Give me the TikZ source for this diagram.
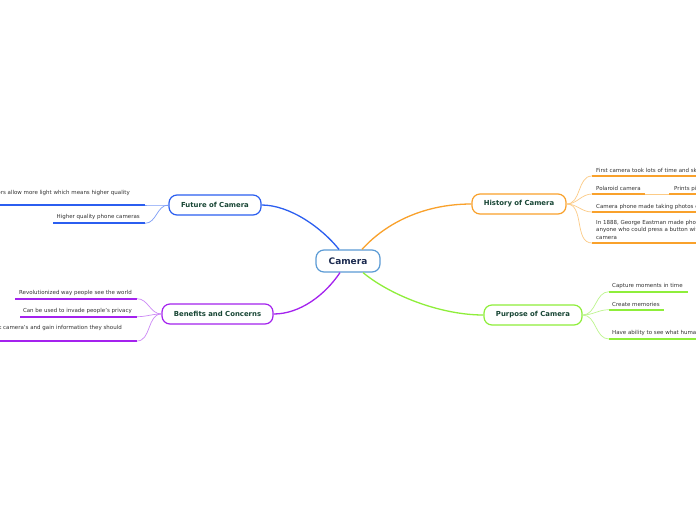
\documentclass[tikz,border=0pt]{standalone}
\usepackage{fontspec}
\setmainfont{DejaVu Sans}
\usetikzlibrary{calc}
\definecolor{camblue}{HTML}{5B9BD5}
\definecolor{camtext}{HTML}{1C2B50}
\definecolor{nodetext}{HTML}{174534}
\definecolor{leafgray}{HTML}{333333}
\definecolor{futblue}{HTML}{2B5EF0}
\definecolor{futlight}{HTML}{7C9CF6}
\definecolor{purp}{HTML}{A422EE}
\definecolor{purplight}{HTML}{CC88F6}
\definecolor{orng}{HTML}{F9A12B}
\definecolor{ornglight}{HTML}{FCCB86}
\definecolor{grn}{HTML}{8EEE3A}
\definecolor{grnlight}{HTML}{BDF58E}
\begin{document}
\begin{tikzpicture}[x=1pt,y=-1pt,
  mainnode/.style={draw, rounded corners=8pt, line width=1.2pt, fill=white,
    minimum height=20pt, inner sep=0pt,
    font=\fontsize{6.9}{8}\selectfont\bfseries, text=nodetext},
  bar/.style={inner sep=0pt, outer sep=0pt, minimum height=1.8pt, draw=none},
  leaftext/.style={font=\fontsize{5.5}{7.3}\selectfont, text=leafgray, inner sep=0pt},
  branch/.style={line width=1.3pt},
  twig/.style={line width=0.7pt}]
\useasboundingbox (0,0) rectangle (696,520);
\clip (0,0) rectangle (696,520);
\fill[white] (0,0) rectangle (696,520);

% main nodes
\node[mainnode, draw=camblue, minimum width=64pt, minimum height=22pt,
  font=\fontsize{9}{10}\selectfont\bfseries, text=camtext] (cam) at (348,261) {Camera};
\node[mainnode, draw=futblue, minimum width=92pt] (fut) at (215,205) {Future of Camera};
\node[mainnode, draw=purp, minimum width=111pt] (ben) at (217.5,314) {Benefits and Concerns};
\node[mainnode, draw=orng, minimum width=94pt] (his) at (519,204) {History of Camera};
\node[mainnode, draw=grn, minimum width=98pt] (pur) at (533,315) {Purpose of Camera};

% main branches
\draw[branch, futblue] ([xshift=-9pt]cam.north) .. controls (322,228) and (290,205) .. (fut.east);
\draw[branch, orng] ([xshift=14pt]cam.north) .. controls (383,226) and (420,204) .. (his.west);
\draw[branch, purp] ([xshift=-8pt]cam.south) .. controls (325,295) and (300,314) .. (ben.east);
\draw[branch, grn] ([xshift=15pt]cam.south) .. controls (390,295) and (440,315) .. (pur.west);

% Future leaves
\node[bar, fill=futblue, minimum width=200pt, anchor=east] (f1) at (145,205) {};
\node[bar, fill=futblue, minimum width=92pt, anchor=east] (f2) at (145,223.3) {};
\node[leaftext, anchor=base east] (f1t) at (130,194.3) {Larger sensors allow more light which means higher quality};
\node[leaftext, anchor=base east] (f2t) at (140,218.7) {Higher quality phone cameras};
\draw[twig, futlight] (fut.west) to[out=180,in=0] (f1.east);
\draw[twig, futlight] (fut.west) to[out=180,in=0] (f2.east);

% Benefits leaves
\node[bar, fill=purp, minimum width=122pt, anchor=east] (b1) at (137,298.7) {};
\node[bar, fill=purp, minimum width=117pt, anchor=east] (b2) at (137,316.7) {};
\node[bar, fill=purp, minimum width=200pt, anchor=east] (b3) at (137,341) {};
\node[leaftext, anchor=base east] (b1t) at (132,294.3) {Revolutionized way people see the world};
\node[leaftext, anchor=base east] (b2t) at (132,312) {Can be used to invade people's privacy};
\node[leaftext, anchor=base east] (b3t) at (122,329.7) {People can hack camera's and gain information they should};
\draw[twig, purplight] (ben.west) to[out=180,in=0] (b1.east);
\draw[twig, purplight] (ben.west) to[out=180,in=0] (b2.east);
\draw[twig, purplight] (ben.west) to[out=180,in=0] (b3.east);

% History leaves
\node[bar, fill=orng, minimum width=150pt, anchor=west] (h1) at (592,176) {};
\node[bar, fill=orng, minimum width=53pt, anchor=west] (h2) at (592,194) {};
\node[bar, fill=orng, minimum width=60pt, anchor=west] (h2b) at (669,194) {};
\node[bar, fill=orng, minimum width=150pt, anchor=west] (h3) at (592,212) {};
\node[bar, fill=orng, minimum width=150pt, anchor=west] (h4) at (592,243) {};
\node[leaftext, anchor=base west] (h1t) at (596,172) {First camera took lots of time and skill to use};
\node[leaftext, anchor=base west] (h2t) at (596,190) {Polaroid camera};
\node[leaftext, anchor=base west] (h2bt) at (674,190) {Prints pictures instantly};
\node[leaftext, anchor=base west] (h3t) at (596,208) {Camera phone made taking photos easier};
\node[leaftext, anchor=north west, align=left] (h4t) at (596,220.3) {In 1888, George Eastman made photography available to\\anyone who could press a button with his Kodak\\camera};
\draw[twig, ornglight] (his.east) to[out=0,in=180] (h1.west);
\draw[twig, ornglight] (his.east) to[out=0,in=180] (h2.west);
\draw[twig, ornglight] (his.east) to[out=0,in=180] (h3.west);
\draw[twig, ornglight] (his.east) to[out=0,in=180] (h4.west);
\draw[twig, ornglight] (h2.east) -- (h2b.west);

% Purpose leaves
\node[bar, fill=grn, minimum width=79pt, anchor=west] (p1) at (609,291.7) {};
\node[bar, fill=grn, minimum width=55pt, anchor=west] (p2) at (609,309.7) {};
\node[bar, fill=grn, minimum width=150pt, anchor=west] (p3) at (609,339) {};
\node[leaftext, anchor=base west] (p1t) at (612,287.7) {Capture moments in time};
\node[leaftext, anchor=base west] (p2t) at (612,306) {Create memories};
\node[leaftext, anchor=base west] (p3t) at (612,334.7) {Have ability to see what humans can't};
\draw[twig, grnlight] (pur.east) to[out=0,in=180] (p1.west);
\draw[twig, grnlight] (pur.east) to[out=0,in=180] (p2.west);
\draw[twig, grnlight] (pur.east) to[out=0,in=180] (p3.west);
\end{tikzpicture}
\end{document}
